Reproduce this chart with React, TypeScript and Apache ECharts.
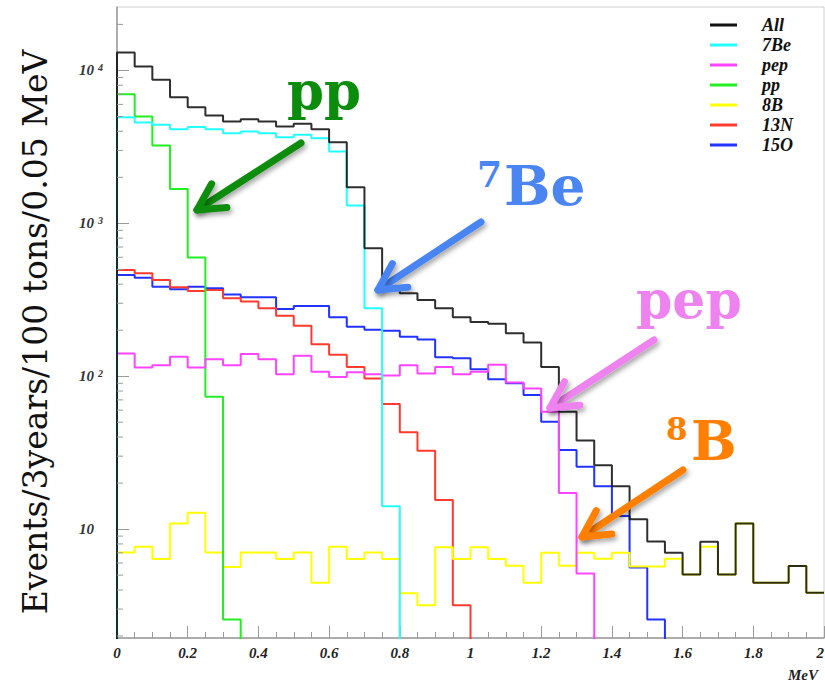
import React, { useEffect, useRef } from "react";
import * as echarts from "echarts";

// ---- data (events per 0.05 MeV bin, bins from 0 to 2 MeV) ----
const binWidth = 0.05;
const xMax = 2;
const seriesNames = ["All", "7Be", "pep", "pp", "8B", "13N", "15O"];
const seriesColors = ["#111111", "#22ffff", "#ff44ff", "#22ee22", "#ffff00", "#ff3b2f", "#2233ff"];

const allCounts = [13100, 10600, 8680, 6690, 5750, 5070, 4630, 4800, 4630, 4300, 4480, 4130, 3390, 1720, 687, 380, 349, 315, 278, 243, 226, 220, 191, 166, 115, 58.5, 38, 26.2, 19.1, 11.6, 8.3, 7.0, 5.05, 8.26, 5.05, 10.9, 4.45, 4.45, 5.73, 3.83];
const be7Counts = [4950, 4560, 4410, 4130, 4260, 4130, 3890, 3990, 3890, 3650, 3790, 3600, 2950, 1306, 278, 14.1, 0, 0, 0, 0, 0, 0, 0, 0, 0, 0, 0, 0, 0, 0, 0, 0, 0, 0, 0, 0, 0, 0, 0, 0];
const pepCounts = [141, 114, 118, 134, 114, 129, 118, 140, 129, 103, 136, 107, 99, 106, 103, 101, 118, 104, 115, 103, 107, 119, 91, 83, 58.6, 17.2, 5.13, 0, 0, 0, 0, 0, 0, 0, 0, 0, 0, 0, 0, 0];
const ppCounts = [7000, 4990, 3230, 1680, 597, 73.4, 2.56, 0, 0, 0, 0, 0, 0, 0, 0, 0, 0, 0, 0, 0, 0, 0, 0, 0, 0, 0, 0, 0, 0, 0, 0, 0, 0, 0, 0, 0, 0, 0, 0, 0];
const b8Counts = [7.04, 7.66, 6.37, 10.9, 12.8, 7.04, 5.66, 7.04, 7.04, 6.37, 7.04, 4.45, 7.66, 6.37, 7.04, 6.37, 3.8, 3.18, 7.6, 6.37, 7.6, 6.37, 5.75, 4.45, 7.0, 5.75, 7.0, 6.4, 7.0, 5.7, 5.7, 6.4, 5.05, 7.66, 5.05, 10.9, 4.45, 4.45, 5.73, 3.83];
const n13Counts = [495, 471, 426, 382, 361, 367, 324, 308, 278, 249, 214, 162, 138, 115, 96.8, 65.8, 43, 32.5, 15.5, 3.18, 0, 0, 0, 0, 0, 0, 0, 0, 0, 0, 0, 0, 0, 0, 0, 0, 0, 0, 0, 0];
const o15Counts = [459, 441, 385, 371, 385, 376, 343, 328, 328, 275, 288, 288, 243, 211, 201, 198, 181, 174, 133, 131, 111, 95.5, 90, 75.4, 50.4, 32.9, 25.6, 19.1, 12.2, 5.61, 2.56, 0, 0, 0, 0, 0, 0, 0, 0, 0];

const countsByName: Record<string, number[]> = {
  All: allCounts,
  "7Be": be7Counts,
  pep: pepCounts,
  pp: ppCounts,
  "8B": b8Counts,
  "13N": n13Counts,
  "15O": o15Counts,
};

// y axis range and minor tick values (log axis)
const yMin = 1.94;
const yMax = 26000;
const yMinorTicks = [2, 3, 4, 5, 6, 7, 8, 9, 20, 30, 40, 50, 60, 70, 80, 90, 200, 300, 400, 500, 600, 700, 800, 900, 2000, 3000, 4000, 5000, 6000, 7000, 8000, 9000, 20000];

// annotations
const annotations = [
  { label: "pp", sup: "", color: "#0c8c0c", x: 287, y: 89.5, size: 53, supSize: 0, supX: 0, supY: 0, tail: [301, 143], tip: [197, 210] },
  { label: "Be", sup: "7", color: "#4a85f2", x: 504, y: 185.7, size: 55, supSize: 36, supX: 477, supY: 174.4, tail: [481, 222], tip: [378, 290] },
  { label: "pep", sup: "", color: "#ee82ee", x: 636, y: 299.8, size: 52, supSize: 0, supX: 0, supY: 0, tail: [654, 340], tip: [550, 408] },
  { label: "B", sup: "8", color: "#ff7f00", x: 691, y: 441, size: 54, supSize: 31, supX: 666, supY: 429, tail: [683, 470], tip: [582, 537] },
];

const FLOOR = 0.5; // empty bins are drawn below the axis minimum (clipped)

function histPoints(counts: number[]) {
  const pts: number[][] = [[0, FLOOR]];
  counts.forEach((c, i) => pts.push([i * binWidth, c > 0 ? c : FLOOR]));
  const last = counts[counts.length - 1];
  pts.push([xMax, last > 0 ? last : FLOOR]);
  return pts;
}

function arrowElements(a: any) {
  const [tx, ty] = a.tail;
  const [hx, hy] = a.tip;
  const ang = Math.atan2(ty - hy, tx - hx);
  const L = 30;
  const spread = (28 * Math.PI) / 180;
  const w1 = [hx + L * Math.cos(ang - spread), hy + L * Math.sin(ang - spread)];
  const w2 = [hx + L * Math.cos(ang + spread), hy + L * Math.sin(ang + spread)];
  const style = {
    stroke: a.color,
    lineWidth: 7,
    lineCap: "round",
    lineJoin: "round",
    fill: null,
    shadowBlur: 5,
    shadowColor: "rgba(0,0,0,0.35)",
    shadowOffsetX: 2,
    shadowOffsetY: 3,
  };
  return [
    { type: "line", shape: { x1: tx, y1: ty, x2: hx, y2: hy }, style, z: 100 },
    { type: "polyline", shape: { points: [w1, [hx, hy], w2] }, style, z: 100 },
  ];
}

function annotationTexts(a: any) {
  const els: any[] = [
    {
      type: "text",
      x: a.x,
      y: a.y,
      z: 101,
      style: {
        text: a.label,
        fontFamily: "DejaVu Serif",
        fontWeight: "bold",
        fontSize: a.size,
        fill: a.color,
        align: "left",
        verticalAlign: "middle",
      },
    },
  ];
  if (a.sup) {
    els.push({
      type: "text",
      x: a.supX,
      y: a.supY,
      z: 101,
      style: {
        text: a.sup,
        fontFamily: "DejaVu Serif",
        fontWeight: "bold",
        fontSize: a.supSize,
        fill: a.color,
        align: "left",
        verticalAlign: "middle",
      },
    });
  }
  return els;
}

const axisGray = "#9a9a9a";
const labelFont = { fontFamily: "Liberation Serif", fontStyle: "italic", fontWeight: "bold" };

function buildOption() {
  const drawOrder = ["15O", "13N", "8B", "pp", "pep", "7Be", "All"];
  const lineSeries = drawOrder.map((name) => {
    const color = seriesColors[seriesNames.indexOf(name)];
    return {
      type: "line",
      name,
      data: histPoints(countsByName[name]),
      step: "end",
      showSymbol: false,
      symbol: "none",
      color,
      itemStyle: { color },
      lineStyle: { color, width: 2, opacity: name === "All" ? 0.88 : 1 },
      clip: true,
      silent: true,
    };
  });

  const minorTickSeries = {
    type: "custom",
    name: "minorTicks",
    data: yMinorTicks.map((v) => [0, v]),
    encode: { x: 0, y: 1 },
    silent: true,
    clip: false,
    z: 5,
    renderItem: (params: any, api: any) => {
      const p = api.coord([0, api.value(1)]);
      return {
        type: "line",
        shape: { x1: p[0], y1: p[1], x2: p[0] + 6, y2: p[1] },
        style: { stroke: axisGray, lineWidth: 1 },
      };
    },
  };

  const graphics: any[] = [
    {
      type: "text",
      x: 35,
      y: 332,
      rotation: Math.PI / 2,
      style: {
        text: "Events/3years/100 tons/0.05 MeV",
        fontFamily: "DejaVu Serif",
        fontSize: 33,
        fill: "#111",
        align: "center",
        verticalAlign: "middle",
      },
    },
    {
      type: "text",
      x: 788,
      y: 675,
      style: {
        text: "MeV",
        ...labelFont,
        fontSize: 15,
        fill: "#222",
        align: "left",
        verticalAlign: "middle",
      },
    },
  ];
  annotations.forEach((a) => {
    graphics.push(...arrowElements(a));
    graphics.push(...annotationTexts(a));
  });

  return {
    animation: false,
    backgroundColor: "#ffffff",
    grid: {
      left: 117,
      right: 1,
      top: 7,
      bottom: 45,
      outerBoundsMode: "none",
      containLabel: false,
      show: true,
      borderColor: "#cfcfcf",
      borderWidth: 1,
      backgroundColor: "transparent",
    },
    legend: {
      data: seriesNames,
      orient: "vertical",
      left: 710,
      top: 16,
      padding: 0,
      itemWidth: 27,
      itemHeight: 3,
      itemGap: 2,
      icon: "rect",
      selectedMode: false,
      textStyle: {
        ...labelFont,
        fontSize: 18,
        lineHeight: 18,
        color: "#111",
        padding: [0, 0, 0, 20],
      },
    },
    xAxis: {
      type: "value",
      min: 0,
      max: xMax,
      interval: 0.2,
      axisLine: { show: true, lineStyle: { color: axisGray, width: 1.5 } },
      axisTick: { show: true, inside: true, length: 12, lineStyle: { color: axisGray } },
      minorTick: { show: true, splitNumber: 4, length: 6, lineStyle: { color: axisGray } },
      splitLine: { show: false },
      axisLabel: { ...labelFont, fontSize: 15, color: "#222", margin: 7, alignMaxLabel: "right" },
    },
    yAxis: {
      type: "log",
      logBase: 10,
      min: yMin,
      max: yMax,
      axisLine: { show: true, lineStyle: { color: axisGray, width: 1.5 } },
      axisTick: { show: true, inside: true, length: 12, lineStyle: { color: axisGray } },
      splitLine: { show: false },
      axisLabel: {
        showMinLabel: false,
        showMaxLabel: false,
        align: "left",
        margin: 38,
        formatter: (v: number) => {
          const e = Math.round(Math.log10(v));
          if (e === 1) return "{b|10}";
          return "{b|10}{s|" + e + "}";
        },
        rich: {
          b: { ...labelFont, fontSize: 15, color: "#333" },
          s: { ...labelFont, fontSize: 10, color: "#333", verticalAlign: "top", padding: [0, 0, 6, 4] },
        },
      },
    },
    series: [...lineSeries, minorTickSeries],
    graphic: graphics,
  };
}

export default function App() {
  const ref = useRef<HTMLDivElement>(null);
  useEffect(() => {
    if (!ref.current) return;
    const chart = echarts.init(ref.current, null, { renderer: "svg" });
    chart.setOption(buildOption() as any);
    return () => chart.dispose();
  }, []);
  return (
    <div
      ref={ref}
      style={{ position: "absolute", left: 0, top: 0, width: 825, height: 683, background: "#fff" }}
    />
  );
}
